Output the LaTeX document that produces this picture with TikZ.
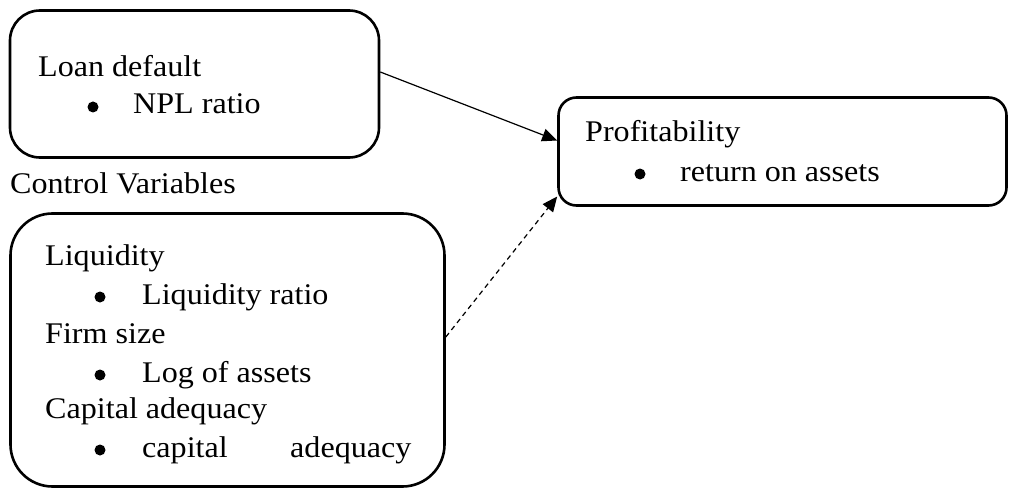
\documentclass[tikz,border=0pt]{standalone}
\usepackage{fontspec}
\setmainfont{Liberation Serif}[FakeStretch=1.07]
\usetikzlibrary{arrows.meta}
\begin{document}
\begin{tikzpicture}[x=1pt,y=-1pt,
  box/.style={draw,line width=2.6pt,inner sep=0pt},
  txt/.style={anchor=base west,inner sep=0pt,font=\fontsize{30}{36}\selectfont},
  bul/.style={circle,fill,inner sep=0pt,minimum size=11pt},
  conn/.style={line width=1.2pt,-{Triangle[length=15pt,width=13pt]}}]
\useasboundingbox (0,0) rectangle (1009,492);
% boxes
\node[box,rounded corners=30pt,minimum width=369pt,minimum height=147pt] (b1) at (194.5,84) {};
\node[box,rounded corners=18pt,minimum width=448pt,minimum height=108pt] (b2) at (782.5,151.5) {};
\node[box,rounded corners=42pt,minimum width=434pt,minimum height=273pt] (b3) at (227.5,350) {};
% box 1 text
\node[txt] (t1) at (38,77) {Loan default};
\node[bul] (t1b) at (93,107) {};
\node[txt] (t1c) at (133,114) {NPL ratio};
% label
\node[txt] (cv) at (10,193) {Control Variables};
% box 2 text
\node[txt] (t2) at (585,142) {Profitability};
\node[bul] (t2b) at (640,174) {};
\node[txt] (t2c) at (680,181) {return on assets};
% box 3 text
\node[txt] (l1) at (45,265) {Liquidity};
\node[bul] (l1b) at (100,297) {};
\node[txt] (l1c) at (142,304) {Liquidity ratio};
\node[txt] (l2) at (45,343) {Firm size};
\node[bul] (l2b) at (100,375) {};
\node[txt] (l2c) at (142,382) {Log of assets};
\node[txt] (l3) at (45,418) {Capital adequacy};
\node[bul] (l3b) at (100,450) {};
\node[txt] (l3c) at (142,457) {capital};
\node[txt] (l3d) at (290,457) {adequacy};
% connectors
\draw[conn] ([yshift=12pt]b1.east) -- ([yshift=11pt]b2.west);
\draw[conn,dash pattern=on 5pt off 4pt] ([yshift=13pt]b3.east) -- ([yshift=-45pt]b2.west);
\end{tikzpicture}
\end{document}
